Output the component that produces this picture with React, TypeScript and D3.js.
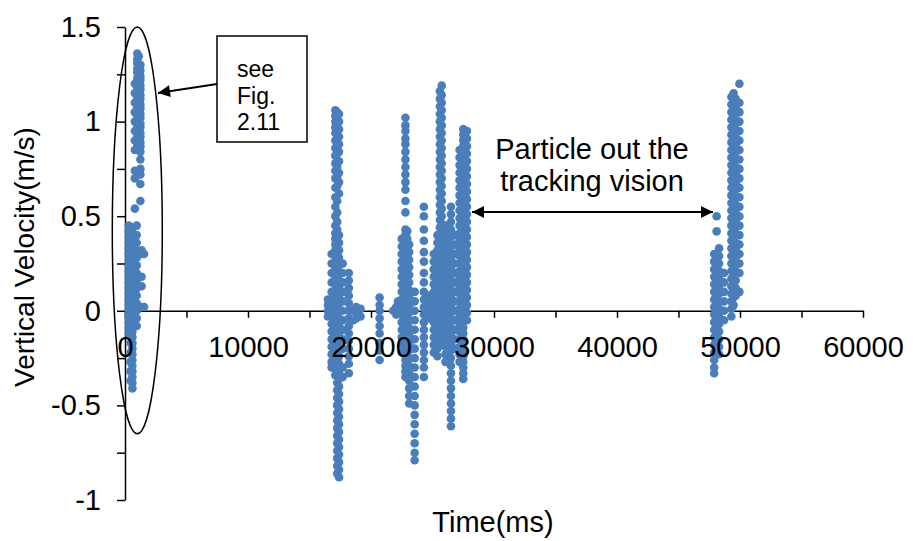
import React, {useRef, useEffect} from 'react'
import * as d3 from 'd3'

// velocity samples, grouped as [time(ms), [velocities (m/s)]] columns
const clusterA: [number, number[]][] = [
  [1000, [1.36, 1.33, 1.31, 1.28, 1.26, 1.23, 1.21, 1.18, 1.16, 1.13, 1.11, 1.08, 1.06, 1.03, 1.01, 0.98, 0.96, 0.93, 0.91, 0.88, 0.86]],
  [1120, [1.345, 1.295, 1.245, 1.195, 1.145, 1.095, 1.045, 0.995, 0.945, 0.895, 0.855]],
  [1250, [1.3, 1.27, 1.24, 1.22, 1.19, 1.17, 1.14, 1.12, 1.09, 1.07, 1.04, 1.02, 0.99, 0.97, 0.94, 0.92, 0.89, 0.87, 0.84, 0.8, 0.75, 0.72, 0.67, 0.58]],
  [800, [1.2, 1.15, 1.1, 1.05, 1.0, 0.95, 0.9, 0.85, 0.74, 0.7, 0.54]],
  [300, [0.45, 0.42, 0.39, 0.36, 0.33, 0.3, 0.27, 0.24, 0.21, 0.18, 0.15, 0.12, 0.09, 0.06, 0.03, 0.0, -0.03, -0.06, -0.09, -0.12]],
  [450, [0.43, 0.38, 0.33, 0.28, 0.23, 0.18, 0.13, 0.08, 0.03, -0.02, -0.07, -0.12, -0.17, -0.22, -0.27, -0.32, -0.37]],
  [600, [0.44, 0.41, 0.37, 0.34, 0.31, 0.28, 0.25, 0.22, 0.19, 0.16, 0.13, 0.1, 0.07, 0.04, 0.01, -0.02, -0.05, -0.08, -0.11, -0.14, -0.17, -0.2, -0.23, -0.26, -0.29, -0.32, -0.35, -0.38, -0.41]],
  [950, [0.45, 0.4, 0.36, 0.32, 0.28, 0.24, 0.2, 0.16, 0.12, 0.08, 0.04, 0.0, -0.04, -0.08]],
  [1350, [0.32, 0.3, 0.18, 0.13, 0.02]],
  [1550, [0.3, 0.02]],
]

const clusterB: [number, number[]][] = [
  [17100, [1.06, 1.03, 1.0, 0.97, 0.94, 0.9, 0.86, 0.82, 0.78, 0.74, 0.7, 0.65, 0.6, 0.55, 0.5, 0.45, 0.41, 0.38, 0.35, 0.32, 0.29, 0.26, 0.23, 0.2, 0.17, 0.14, 0.11, 0.08, 0.05, 0.02, -0.01, -0.04, -0.07, -0.1, -0.13, -0.16, -0.19, -0.22, -0.25, -0.28, -0.31, -0.34]],
  [17250, [1.05, 1.01, 0.95, 0.91, 0.87, 0.83, 0.76, 0.71, 0.66, 0.58, 0.52, 0.47, 0.43, 0.39, 0.34, 0.3, 0.25, 0.21, 0.18, 0.13, 0.1, 0.06, 0.03, -0.02, -0.06, -0.1, -0.14, -0.18, -0.22, -0.26, -0.3, -0.34, -0.38, -0.42, -0.46, -0.5, -0.54, -0.58, -0.62, -0.66, -0.7, -0.74, -0.78, -0.82, -0.86]],
  [17400, [1.04, 1.0, 0.96, 0.92, 0.88, 0.84, 0.79, 0.73, 0.68, 0.62, 0.4, 0.36, 0.32, 0.28, 0.24, 0.2, 0.16, 0.12, 0.08, 0.04, 0.0, -0.04, -0.08, -0.12, -0.16, -0.2, -0.24, -0.28, -0.32, -0.36, -0.4, -0.44, -0.48, -0.52, -0.56, -0.6, -0.64, -0.68, -0.72, -0.76, -0.8, -0.84, -0.88]],
  [16800, [0.3, 0.25, 0.2, 0.15, 0.1, 0.06, 0.03, 0.0, -0.03, -0.07, -0.11, -0.15, -0.19, -0.23, -0.27, -0.3]],
  [16500, [0.06, 0.03, 0.0, -0.03]],
  [17700, [0.25, 0.2, 0.15, 0.1, 0.05, 0.0, -0.05, -0.1, -0.15, -0.2, -0.3, -0.35]],
  [18200, [0.2, 0.16, 0.12, 0.08, 0.04, 0.0, -0.04, -0.08, -0.12, -0.16, -0.2, -0.24, -0.28, -0.33]],
  [18550, [0.0, -0.05]],
  [18800, [0.02, -0.01, -0.04]],
  [19150, [0.01, -0.03]],
  [20700, [0.07, 0.03, 0.0, -0.04, -0.08, -0.12, -0.17, -0.21, -0.26]],
  [21800, [0.0]],
  [22050, [0.02, -0.02]],
]

const clusterC: [number, number[]][] = [
  [22800, [1.02, 0.98, 0.95, 0.91, 0.88, 0.84, 0.8, 0.76, 0.72, 0.68, 0.64, 0.58, 0.52, 0.43, 0.4, 0.37, 0.34, 0.31, 0.28, 0.25, 0.22, 0.19, 0.16, 0.13, 0.1, 0.07, 0.04, 0.01, -0.02, -0.05, -0.08, -0.11, -0.14, -0.17, -0.2, -0.23, -0.26, -0.29, -0.32, -0.35]],
  [22950, [0.42, 0.38, 0.33, 0.29, 0.24, 0.2, 0.15, 0.11, 0.06, 0.02, -0.03, -0.07, -0.12, -0.16, -0.21, -0.25, -0.3, -0.34]],
  [22500, [0.38, 0.34, 0.3, 0.26, 0.22, 0.18, 0.14, 0.1, 0.06, 0.02, -0.02, -0.06, -0.1, -0.14, -0.18, -0.22]],
  [23100, [0.35, 0.31, 0.27, 0.23, 0.19, 0.15, 0.11, 0.07, 0.03, -0.01, -0.05, -0.09, -0.13, -0.17, -0.21, -0.25, -0.29, -0.33, -0.37, -0.41, -0.45, -0.49]],
  [23550, [0.1, 0.05, 0.0, -0.05, -0.1, -0.15, -0.2, -0.25, -0.3, -0.35, -0.4, -0.45, -0.5, -0.55, -0.6, -0.65, -0.7, -0.75, -0.79]],
  [22200, [0.05, 0.02, -0.01]],
  [24300, [0.55, 0.5, 0.43, 0.37, 0.31, 0.26, 0.2, 0.15, 0.1, 0.06, 0.02, -0.02, -0.06, -0.1, -0.14, -0.18, -0.22, -0.26, -0.3, -0.35]],
]

const clusterD: [number, number[]][] = [
  [25100, [0.3, 0.26, 0.22, 0.18, 0.14, 0.1, 0.06, 0.02, -0.02, -0.06, -0.1, -0.14, -0.18, -0.22]],
  [25400, [0.4, 0.36, 0.32, 0.28, 0.24, 0.2, 0.16, 0.12, 0.08, 0.04, 0.0, -0.04, -0.08, -0.12, -0.16, -0.2, -0.24]],
  [25600, [1.16, 1.12, 1.08, 1.04, 1.0, 0.96, 0.92, 0.88, 0.84, 0.8, 0.76, 0.72, 0.68, 0.64, 0.6, 0.56, 0.52, 0.48, 0.44, 0.4, 0.36, 0.32, 0.28, 0.24, 0.2, 0.16, 0.12, 0.08, 0.04, 0.0, -0.04, -0.08, -0.12, -0.16]],
  [25750, [1.19, 1.14, 1.1, 1.06, 1.02, 0.98, 0.94, 0.9, 0.86, 0.82, 0.78, 0.74, 0.7, 0.66, 0.62, 0.58, 0.54, 0.5, 0.46, 0.42, 0.38, 0.34, 0.3, 0.26, 0.22, 0.18, 0.14, 0.1, 0.06, 0.02, -0.02, -0.06, -0.1, -0.14, -0.18]],
  [26050, [0.45, 0.41, 0.37, 0.33, 0.29, 0.25, 0.21, 0.17, 0.13, 0.09, 0.05, 0.01, -0.03, -0.07, -0.11, -0.15, -0.19, -0.23, -0.27]],
  [26500, [0.55, 0.51, 0.47, 0.43, 0.39, 0.35, 0.31, 0.27, 0.23, 0.19, 0.15, 0.11, 0.07, 0.03, -0.01, -0.05, -0.09, -0.13, -0.17, -0.21, -0.25, -0.29, -0.33, -0.37, -0.41, -0.45, -0.49, -0.53, -0.57, -0.61]],
  [24700, [0.08, 0.04, 0.0, -0.04]],
  [24900, [0.05, 0.0]],
]

const clusterE: [number, number[]][] = [
  [27200, [0.85, 0.81, 0.77, 0.73, 0.69, 0.65, 0.61, 0.57, 0.53, 0.49, 0.45, 0.41, 0.37, 0.33, 0.29, 0.25, 0.21, 0.17, 0.13, 0.09, 0.05, 0.01, -0.03, -0.07, -0.11, -0.15, -0.19, -0.23, -0.27]],
  [27500, [0.96, 0.93, 0.9, 0.87, 0.84, 0.81, 0.78, 0.75, 0.72, 0.69, 0.66, 0.63, 0.6, 0.57, 0.54, 0.51, 0.48, 0.45, 0.42, 0.39, 0.36, 0.33, 0.3, 0.27, 0.24, 0.21, 0.18, 0.15, 0.12, 0.09, 0.06, 0.03, 0.0, -0.03, -0.06, -0.09, -0.12, -0.15, -0.18, -0.21, -0.24, -0.27, -0.3, -0.33, -0.36]],
  [27650, [0.945, 0.915, 0.885, 0.855, 0.825, 0.795, 0.765, 0.735, 0.705, 0.675, 0.645, 0.615, 0.585, 0.555, 0.525, 0.495, 0.465, 0.435, 0.405, 0.375, 0.345, 0.315, 0.285, 0.255, 0.225, 0.195, 0.165, 0.135, 0.105, 0.075, 0.045, 0.015, -0.015, -0.045]],
  [27800, [0.95, 0.91, 0.87, 0.83, 0.79, 0.75, 0.71, 0.67, 0.63, 0.59, 0.55, 0.51, 0.47, 0.43, 0.39, 0.35, 0.31, 0.27, 0.23, 0.19, 0.15, 0.11, 0.07, 0.03, -0.01, -0.05]],
  [26800, [0.4, 0.35, 0.3, 0.25, 0.2, 0.15, 0.1, 0.05, 0.0, -0.05, -0.1, -0.15, -0.2]],
]

const clusterF: [number, number[]][] = [
  [48100, [0.5, 0.42]],
  [47900, [0.3, 0.26, 0.22, 0.18, 0.14, 0.1, 0.06, 0.02, -0.02, -0.06, -0.1, -0.14, -0.18, -0.22, -0.26, -0.3, -0.33]],
  [48300, [0.33, 0.29, 0.25, 0.21, 0.17, 0.13, 0.09, 0.05, 0.01, -0.03, -0.07, -0.11, -0.15, -0.19, -0.23]],
  [48700, [0.2, 0.15, 0.1, 0.05, 0.0, -0.05]],
  [49300, [1.13, 1.09, 1.05, 1.01, 0.97, 0.93, 0.89, 0.85, 0.81, 0.77, 0.73, 0.69, 0.65, 0.61, 0.57, 0.53, 0.49, 0.45, 0.41, 0.37, 0.33, 0.29, 0.25, 0.21, 0.17, 0.13, 0.09, 0.05, 0.01, -0.03]],
  [49480, [1.15, 1.11, 1.07, 1.03, 0.99, 0.95, 0.91, 0.87, 0.83, 0.79, 0.75, 0.71, 0.67, 0.63, 0.59, 0.55, 0.51, 0.47, 0.43, 0.39, 0.35, 0.31, 0.27, 0.23, 0.19, 0.15, 0.11, 0.07, 0.03]],
  [49650, [1.12, 1.08, 1.04, 1.0, 0.96, 0.92, 0.88, 0.84, 0.8, 0.76, 0.72, 0.68, 0.64, 0.6, 0.56, 0.52, 0.48, 0.44, 0.4, 0.36, 0.32, 0.28, 0.24, 0.2, 0.16, 0.12, 0.08]],
  [49950, [1.2, 1.1, 1.05, 1.0, 0.95, 0.9, 0.85, 0.8, 0.75, 0.7, 0.65, 0.6, 0.55, 0.5, 0.45, 0.4, 0.35, 0.3, 0.25, 0.2, 0.1]],
]

const yTicks = [-1, -0.75, -0.5, -0.25, 0, 0.25, 0.5, 0.75, 1, 1.25, 1.5]
const xTicks = [0, 5000, 10000, 15000, 20000, 25000, 30000, 35000, 40000, 45000, 50000, 55000, 60000]
const boxLines = ['see', 'Fig.', '2.11']
const noteLines = ['Particle out the', 'tracking vision']

const FONT = '"Liberation Sans", Arial, sans-serif'
const BLUE = '#4A7EBB'

function App() {
  const ref: any = useRef<SVGSVGElement>(null)

  useEffect(() => {
    const svg = d3.select(ref.current)
    svg.selectAll('*').remove()

    const x = d3.scaleLinear().domain([0, 60000]).range([125, 863])
    const y = d3.scaleLinear().domain([-1, 1.5]).range([500, 27])

    const points: {t: number; v: number}[] = []
    ;[clusterA, clusterB, clusterC, clusterD, clusterE, clusterF].forEach(cl =>
      cl.forEach(([t, vs]) => vs.forEach(v => points.push({t, v}))),
    )

    const defs = svg.append('defs')
    defs
      .append('marker')
      .attr('id', 'head')
      .attr('viewBox', '0 0 10 10')
      .attr('refX', 10)
      .attr('refY', 5)
      .attr('markerWidth', 15)
      .attr('markerHeight', 12)
      .attr('markerUnits', 'userSpaceOnUse')
      .attr('orient', 'auto-start-reverse')
      .append('path')
      .attr('d', 'M0,0L10,5L0,10Z')
      .attr('fill', '#000')

    const halfStep = (d: any) => Math.abs(d * 2 - Math.round(d * 2)) < 1e-9
    const yAxisGen = d3
      .axisLeft(y)
      .tickValues(yTicks)
      .tickSize(8)
      .tickSizeOuter(0)
      .tickPadding(16)
      .tickFormat((d: any) => (halfStep(d) ? String(d) : ''))
    const xAxisGen = d3
      .axisBottom(x)
      .tickValues(xTicks)
      .tickSize(7)
      .tickSizeOuter(0)
      .tickPadding(19)
      .tickFormat((d: any) => (d % 10000 === 0 ? String(d) : ''))

    // axis lines (under the dots)
    const yLines = svg.append('g').attr('transform', `translate(${x(0)},0)`).call(yAxisGen)
    const xLines = svg.append('g').attr('transform', `translate(0,${y(0)})`).call(xAxisGen)
    ;[yLines, xLines].forEach(g => {
      g.selectAll('text').remove()
      g.selectAll('line,path').attr('stroke', '#000').attr('stroke-width', 1.5)
    })

    // scatter
    svg
      .append('g')
      .selectAll('circle')
      .data(points)
      .join('circle')
      .attr('cx', d => x(d.t))
      .attr('cy', d => y(d.v))
      .attr('r', 4.3)
      .attr('fill', BLUE)

    // tick labels (above the dots)
    const yLabels = svg.append('g').attr('transform', `translate(${x(0)},0)`).call(yAxisGen)
    const xLabels = svg.append('g').attr('transform', `translate(0,${y(0)})`).call(xAxisGen)
    ;[yLabels, xLabels].forEach(g => {
      g.selectAll('line,path').remove()
      g.selectAll('text').attr('font-size', 29).attr('font-family', FONT).attr('fill', '#000')
    })

    // axis titles
    svg
      .append('text')
      .attr('x', 493)
      .attr('y', 532)
      .attr('text-anchor', 'middle')
      .attr('font-size', 29)
      .attr('font-family', FONT)
      .text('Time(ms)')
    svg
      .append('text')
      .attr('transform', `translate(34,${257}) rotate(-90)`)
      .attr('text-anchor', 'middle')
      .attr('font-size', 28)
      .attr('font-family', FONT)
      .text('Vertical Velocity(m/s)')

    // ellipse around the first burst
    svg
      .append('ellipse')
      .attr('cx', x(1000))
      .attr('cy', (y(1.5) + y(-0.65)) / 2)
      .attr('rx', 25)
      .attr('ry', (y(-0.65) - y(1.5)) / 2)
      .attr('fill', 'none')
      .attr('stroke', '#000')
      .attr('stroke-width', 1.5)

    // callout box
    svg
      .append('rect')
      .attr('x', 217)
      .attr('y', 36)
      .attr('width', 90)
      .attr('height', 106)
      .attr('fill', '#fff')
      .attr('stroke', '#000')
      .attr('stroke-width', 1.5)
    svg
      .append('g')
      .selectAll('text')
      .data(boxLines)
      .join('text')
      .attr('x', 237)
      .attr('y', (d, i) => 77 + i * 26.5)
      .attr('font-size', 23)
      .attr('font-family', FONT)
      .text(d => d)
    svg
      .append('line')
      .attr('x1', 217)
      .attr('y1', 84)
      .attr('x2', 158)
      .attr('y2', 93)
      .attr('stroke', '#000')
      .attr('stroke-width', 2)
      .attr('marker-end', 'url(#head)')

    // out-of-view note
    svg
      .append('g')
      .selectAll('text')
      .data(noteLines)
      .join('text')
      .attr('x', 592)
      .attr('y', (d, i) => 159 + i * 32)
      .attr('text-anchor', 'middle')
      .attr('font-size', 29)
      .attr('font-family', FONT)
      .text(d => d)
    svg
      .append('line')
      .attr('x1', 472)
      .attr('y1', 212)
      .attr('x2', 713)
      .attr('y2', 212)
      .attr('stroke', '#000')
      .attr('stroke-width', 2)
      .attr('marker-start', 'url(#head)')
      .attr('marker-end', 'url(#head)')
  }, [])

  return (
    <svg
      ref={ref}
      width={913}
      height={541}
      style={{position: 'absolute', left: 0, top: 0, background: '#fff'}}
    />
  )
}

export default App
